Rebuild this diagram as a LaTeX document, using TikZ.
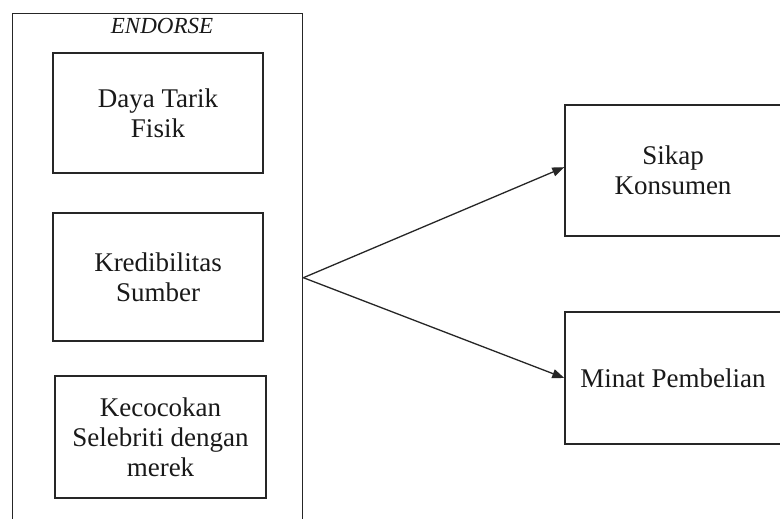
\documentclass[tikz,border=0pt]{standalone}
\usepackage{fontspec}
\setmainfont{Liberation Serif}
\usetikzlibrary{arrows.meta,calc}
\begin{document}
\begin{tikzpicture}[x=1pt,y=-1pt,
  box/.style={draw=black!85, line width=1.4pt, inner sep=0pt, align=center, text=black!90, font=\fontsize{27}{30}\selectfont},
  arr/.style={-{Triangle[length=12pt,width=9pt]}, line width=1.3pt, draw=black!85}]
\useasboundingbox (0,0) rectangle (780,519);
\clip (0,0) rectangle (780,519);
\fill[white] (0,0) rectangle (780,519);
\node[draw=black!85, line width=1.4pt, minimum width=290pt, minimum height=528pt, anchor=north west, inner sep=0pt] (outer) at (12,13) {};
\node[font=\itshape\fontsize{23}{26}\selectfont, text=black!90] (title) at (162,26) {ENDORSE};
\node[box, minimum width=210pt, minimum height=120pt] (daya) at (158,113) {Daya Tarik\\Fisik};
\node[box, minimum width=210pt, minimum height=128pt] (kred) at (158,277) {Kredibilitas\\Sumber};
\node[box, minimum width=211pt, minimum height=122pt] (keco) at (160.5,437) {Kecocokan\\Selebriti dengan\\merek};
\node[box, minimum width=216pt, minimum height=131pt] (sikap) at (673,170.5) {Sikap\\Konsumen};
\node[box, minimum width=216pt, minimum height=132pt] (minat) at (673,378) {Minat Pembelian};
\draw[arr] (outer.east) -- ($(sikap.north west)!0.475!(sikap.south west)$);
\draw[arr] (outer.east) -- (minat.west);
\end{tikzpicture}
\end{document}
